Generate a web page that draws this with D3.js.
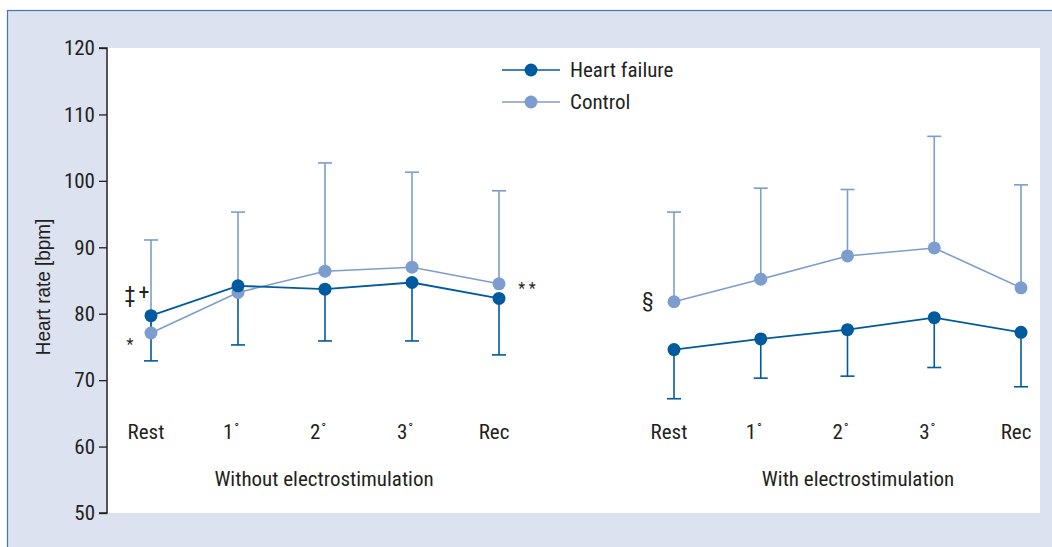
<!DOCTYPE html>
<html>
<head>
<meta charset="UTF-8">
<title>Heart rate</title>
<script src="https://d3js.org/d3.v7.min.js"></script>
<style>
  body { margin: 0; background: #fff; }
  text { font-family: "Roboto Condensed", "Liberation Sans Narrow", "DejaVu Sans Condensed", sans-serif; fill: #231f20; }
</style>
</head>
<body>
<svg width="1052" height="547"></svg>
<script>
// data
const stages = ['Rest', '1', '2', '3', 'Rec'];
const stageLabels = ['Rest', '1°', '2°', '3°', 'Rec'];
const panels = ['Without electrostimulation', 'With electrostimulation'];

// Heart failure means and lower error bar ends
const hfWithout = [79.7, 84.2, 83.7, 84.7, 82.3];
const hfWithoutLow = [72.9, 75.3, 75.9, 75.9, 73.8];
const hfWith = [74.6, 76.2, 77.6, 79.4, 77.2];
const hfWithLow = [67.2, 70.3, 70.6, 71.9, 69.0];

// Control means and upper error bar ends
const ctlWithout = [77.1, 83.2, 86.4, 87.0, 84.5];
const ctlWithoutHigh = [91.1, 95.3, 102.7, 101.3, 98.5];
const ctlWith = [81.8, 85.2, 88.7, 89.9, 83.9];
const ctlWithHigh = [95.3, 98.9, 98.7, 106.7, 99.4];

const yTicks = [50, 60, 70, 80, 90, 100, 110, 120];

const dark = '#005a9e';
const light = '#7c9dcd';

const svg = d3.select('svg');

// panel background + frame
svg.append('rect')
  .attr('x', 7.5).attr('y', 10.5)
  .attr('width', 1100).attr('height', 600)
  .attr('fill', '#dce2ef')
  .attr('stroke', '#4676b4').attr('stroke-width', 1.2);

const plot = { left: 107, right: 1040, top: 48, bottom: 513 };

svg.append('rect')
  .attr('x', plot.left).attr('y', plot.top)
  .attr('width', plot.right - plot.left).attr('height', plot.bottom - plot.top)
  .attr('fill', '#fff');

const y = d3.scaleLinear().domain([50, 120]).range([plot.bottom, plot.top]);

// y axis
const yAxis = svg.append('g')
  .attr('transform', `translate(${plot.left},0)`)
  .call(d3.axisLeft(y).tickValues(yTicks).tickSize(8).tickPadding(4));
yAxis.select('.domain').attr('stroke', '#231f20').attr('stroke-width', 1.5).attr('d', `M-8,${y(120)}H0V${y(50)}H-8`);
yAxis.selectAll('.tick line').attr('stroke', '#231f20').attr('stroke-width', 1.3);
yAxis.selectAll('.tick text').attr('font-size', 21).style('fill', '#231f20');

svg.append('text')
  .attr('transform', 'translate(50,287) rotate(-90) scale(0.9,1)')
  .attr('text-anchor', 'middle')
  .attr('font-size', 21)
  .style('font-family', '"Liberation Sans", Arial, sans-serif')
  .text('Heart rate [bpm]');

// x scales for each panel
const panelX = [
  d3.scalePoint().domain(stages).range([151, 499]),
  d3.scalePoint().domain(stages).range([674, 1021])
];
const titleX = [324, 858];

const series = [
  { panel: 0, hf: hfWithout, hfLow: hfWithoutLow, ctl: ctlWithout, ctlHigh: ctlWithoutHigh },
  { panel: 1, hf: hfWith, hfLow: hfWithLow, ctl: ctlWith, ctlHigh: ctlWithHigh }
];

const cap = 7;

series.forEach(s => {
  const x = panelX[s.panel];
  const g = svg.append('g');

  // control error bars (upper)
  stages.forEach((st, i) => {
    g.append('line')
      .attr('x1', x(st)).attr('x2', x(st))
      .attr('y1', y(s.ctl[i])).attr('y2', y(s.ctlHigh[i]))
      .attr('stroke', light).attr('stroke-width', 1.6);
    g.append('line')
      .attr('x1', x(st) - cap).attr('x2', x(st) + cap)
      .attr('y1', y(s.ctlHigh[i])).attr('y2', y(s.ctlHigh[i]))
      .attr('stroke', light).attr('stroke-width', 1.6);
  });

  // heart failure error bars (lower)
  stages.forEach((st, i) => {
    g.append('line')
      .attr('x1', x(st)).attr('x2', x(st))
      .attr('y1', y(s.hf[i])).attr('y2', y(s.hfLow[i]))
      .attr('stroke', dark).attr('stroke-width', 1.6);
    g.append('line')
      .attr('x1', x(st) - cap).attr('x2', x(st) + cap)
      .attr('y1', y(s.hfLow[i])).attr('y2', y(s.hfLow[i]))
      .attr('stroke', dark).attr('stroke-width', 1.6);
  });

  const line = d3.line().x((d, i) => x(stages[i])).y(d => y(d));

  g.append('path').attr('d', line(s.ctl))
    .attr('fill', 'none').attr('stroke', light).attr('stroke-width', 1.6);
  g.selectAll('circle.ctl').data(s.ctl).enter().append('circle')
    .attr('class', 'ctl')
    .attr('cx', (d, i) => x(stages[i])).attr('cy', d => y(d))
    .attr('r', 6.5).attr('fill', light);

  g.append('path').attr('d', line(s.hf))
    .attr('fill', 'none').attr('stroke', dark).attr('stroke-width', 1.8);
  g.selectAll('circle.hf').data(s.hf).enter().append('circle')
    .attr('class', 'hf')
    .attr('cx', (d, i) => x(stages[i])).attr('cy', d => y(d))
    .attr('r', 6.5).attr('fill', dark);

  // category labels
  stages.forEach((st, i) => {
    const t = svg.append('text')
      .attr('x', x(st) - (i === 0 || i === 4 ? 5 : 7)).attr('y', 439)
      .attr('text-anchor', 'middle')
      .attr('font-size', 21);
    if (i === 0 || i === 4) {
      t.text(stageLabels[i]);
    } else {
      t.append('tspan').text(stageLabels[i].charAt(0));
      t.append('tspan').attr('font-size', 13).attr('dy', -7).attr('dx', 1).text('°');
    }
  });

  // panel title
  svg.append('text')
    .attr('x', titleX[s.panel]).attr('y', 486)
    .attr('text-anchor', 'middle')
    .attr('font-size', 21)
    .text(panels[s.panel]);
});

// significance marks
const marks = [
  { t: '‡', x: 130, y: 302, size: 22 },
  { t: '+', x: 144, y: 300, size: 22 },
  { t: '*', x: 130, y: 350, size: 16 },
  { t: '* *', x: 527, y: 294, size: 16 },
  { t: '§', x: 648, y: 307, size: 21 }
];
svg.selectAll('text.mark').data(marks).enter().append('text')
  .attr('class', 'mark')
  .attr('x', d => d.x).attr('y', d => d.y)
  .attr('text-anchor', 'middle')
  .attr('font-size', d => d.size)
  .style('white-space', 'pre')
  .text(d => d.t);

// legend
const legend = [
  { name: 'Heart failure', color: dark, y: 70 },
  { name: 'Control', color: light, y: 102 }
];
const lg = svg.append('g');
legend.forEach(l => {
  lg.append('line').attr('x1', 502).attr('x2', 560).attr('y1', l.y).attr('y2', l.y)
    .attr('stroke', l.color).attr('stroke-width', 1.6);
  lg.append('circle').attr('cx', 531).attr('cy', l.y).attr('r', 6.5).attr('fill', l.color);
  lg.append('text').attr('x', 570).attr('y', l.y + 7).attr('font-size', 21).text(l.name);
});
</script>
</body>
</html>
